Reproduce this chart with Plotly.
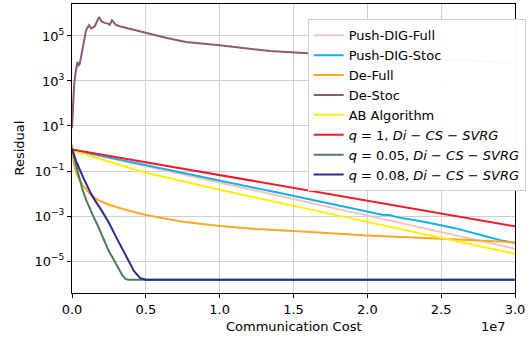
import plotly.graph_objects as go

# ---------------- data (x: communication cost, y: residual) ----------------
push_full_x = [0, 1.0e7, 2.0e7, 3.0e7]
push_full_y = [0.891, 0.0302, 1.05e-3, 3.55e-5]

push_stoc_x = [0, 0.2e7, 0.4e7, 0.6e7, 0.8e7, 1.0e7, 1.2e7, 1.4e7, 1.6e7, 1.8e7,
               2.0e7, 2.1e7, 2.15e7, 2.2e7, 2.4e7, 2.6e7, 2.8e7, 2.9e7, 3.0e7]
push_stoc_y = [0.891, 0.468, 0.251, 0.132, 0.0708, 0.0380, 0.0200, 0.0107, 5.62e-3, 3.02e-3,
               1.58e-3, 1.15e-3, 1.12e-3, 8.91e-4, 5.25e-4, 2.82e-4, 1.26e-4, 8.51e-5, 6.31e-5]

de_full_x = [0, 0.005e7, 0.015e7, 0.03e7, 0.05e7, 0.08e7, 0.12e7, 0.17e7, 0.25e7, 0.35e7,
             0.5e7, 0.75e7, 1.0e7, 1.25e7, 1.5e7, 2.0e7, 2.5e7, 3.0e7]
de_full_y = [1.48, 0.501, 0.178, 0.0794, 0.0398, 0.0200, 0.0100, 5.37e-3, 3.16e-3, 2.0e-3,
             1.10e-3, 5.62e-4, 3.63e-4, 2.63e-4, 2.14e-4, 1.38e-4, 9.77e-5, 6.92e-5]

de_stoc_x = [0, 0.006e7, 0.014e7, 0.025e7, 0.037e7, 0.045e7, 0.052e7, 0.075e7, 0.095e7,
             0.115e7, 0.131e7, 0.154e7, 0.183e7, 0.20e7, 0.22e7, 0.244e7, 0.255e7, 0.271e7,
             0.296e7, 0.323e7, 0.40e7, 0.504e7, 0.628e7, 0.77e7, 1.0e7, 1.34e7, 1.59e7,
             2.0e7, 2.5e7, 3.0e7]
de_stoc_y = [8.0, 80.0, 630.0, 2500.0, 7080.0, 5010.0, 5620.0, 3.55e4, 1.78e5,
             3.02e5, 2.14e5, 2.69e5, 6.92e5, 4.47e5, 3.80e5, 3.55e5, 3.09e5, 5.01e5,
             3.16e5, 2.69e5, 2.0e5, 1.35e5, 8.51e4, 5.37e4, 3.89e4, 2.14e4, 1.70e4,
             1.20e4, 8.71e3, 6.61e3]

ab_x = [0, 0.1e7, 0.2e7, 0.3e7, 0.4e7, 0.5e7, 0.7e7, 1.0e7, 1.5e7, 2.0e7, 2.5e7, 3.0e7]
ab_y = [0.832, 0.513, 0.324, 0.204, 0.129, 0.0832, 0.0407, 0.0148, 2.82e-3, 5.37e-4,
        1.05e-4, 2.09e-5]

q1_x = [0, 1.0e7, 2.0e7, 3.0e7]
q1_y = [0.912, 0.0661, 4.79e-3, 3.47e-4]

q005_x = [0, 0.016e7, 0.04e7, 0.07e7, 0.10e7, 0.14e7, 0.18e7, 0.245e7, 0.31e7, 0.34e7,
          0.36e7, 0.38e7, 1.0e7, 2.0e7, 3.0e7]
q005_y = [1.0, 0.355, 0.0891, 0.0158, 4.47e-3, 1.12e-3, 3.16e-4, 3.16e-5, 5.62e-6, 2.40e-6,
          1.66e-6, 1.48e-6, 1.48e-6, 1.48e-6, 1.48e-6]

q008_x = [0, 0.027e7, 0.08e7, 0.14e7, 0.20e7, 0.25e7, 0.30e7, 0.37e7, 0.42e7, 0.46e7,
          0.50e7, 1.0e7, 2.0e7, 3.0e7]
q008_y = [1.0, 0.282, 0.0447, 7.08e-3, 1.78e-3, 5.01e-4, 1.12e-4, 1.41e-5, 3.55e-6, 1.78e-6,
          1.48e-6, 1.48e-6, 1.48e-6, 1.48e-6]

series_names = ["Push-DIG-Full", "Push-DIG-Stoc", "De-Full", "De-Stoc", "AB Algorithm",
                "<i>q</i> = 1, <i>Di</i> − <i>CS</i> − <i>SVRG</i>",
                "<i>q</i> = 0.05, <i>Di</i> − <i>CS</i> − <i>SVRG</i>",
                "<i>q</i> = 0.08, <i>Di</i> − <i>CS</i> − <i>SVRG</i>"]
series_colors = ["#f8c4b8", "#13b0ec", "#ffa722", "#8e5878", "#ffee00",
                 "#ee1d27", "#4b7d5c", "#2c2c8e"]

x_tick_vals = [0, 0.5e7, 1.0e7, 1.5e7, 2.0e7, 2.5e7, 3.0e7]
x_tick_text = ["0.0", "0.5", "1.0", "1.5", "2.0", "2.5", "3.0"]
y_tick_vals = [1e-5, 1e-3, 1e-1, 1e1, 1e3, 1e5]
y_tick_text = ["10<sup>−5</sup>", "10<sup>−3</sup>", "10<sup>−1</sup>",
               "10<sup>1</sup>", "10<sup>3</sup>", "10<sup>5</sup>"]

FONT = "DejaVu Sans"
FS = 13

xs = [push_full_x, push_stoc_x, de_full_x, de_stoc_x, ab_x, q1_x, q005_x, q008_x]
ys = [push_full_y, push_stoc_y, de_full_y, de_stoc_y, ab_y, q1_y, q005_y, q008_y]

fig = go.Figure()
for x, y, name, col in zip(xs, ys, series_names, series_colors):
    fig.add_trace(go.Scatter(x=x, y=y, mode="lines", name=name,
                             line=dict(color=col, width=2)))

fig.update_layout(
    width=532, height=340,
    margin=dict(l=72, r=17, t=4, b=47, pad=0),
    plot_bgcolor="white", paper_bgcolor="white",
    font=dict(family=FONT, size=FS, color="black"),
    showlegend=True,
    legend=dict(x=0.532, y=0.947, xanchor="left", yanchor="top",
                bgcolor="rgba(255,255,255,0.97)", bordercolor="#d0d0d0", borderwidth=1,
                font=dict(family=FONT, size=FS, color="black"),
                itemwidth=30),
)
fig.update_xaxes(range=[0, 3.0e7], tickvals=x_tick_vals, ticktext=x_tick_text,
                 showgrid=True, gridcolor="#d0d0d0", gridwidth=1.2, automargin=False,
                 showline=True, linecolor="black", linewidth=1, mirror=True,
                 ticks="outside", ticklen=4, tickcolor="black", zeroline=False)
fig.update_yaxes(type="log", range=[-6.42, 6.42], tickvals=y_tick_vals, ticktext=y_tick_text,
                 showgrid=True, gridcolor="#d0d0d0", gridwidth=1.2, automargin=False,
                 showline=True, linecolor="black", linewidth=1, mirror=True,
                 ticks="outside", ticklen=4, tickcolor="black", zeroline=False)

fig.add_annotation(text="Communication Cost", xref="paper", yref="paper", x=0.5, y=0,
                   xanchor="center", yanchor="middle", yshift=-33, showarrow=False,
                   font=dict(family=FONT, size=FS))
fig.add_annotation(text="1e7", xref="paper", yref="paper", x=1, y=0,
                   xanchor="right", yanchor="middle", yshift=-33, xshift=-7, showarrow=False,
                   font=dict(family=FONT, size=FS))
fig.add_annotation(text="Residual", xref="paper", yref="paper", x=0, y=0.5,
                   xanchor="center", yanchor="middle", xshift=-53, textangle=-90,
                   showarrow=False, font=dict(family=FONT, size=FS))

fig.write_html("out.html", config={"displayModeBar": False},
               post_script="document.body.style.margin='0px';")
